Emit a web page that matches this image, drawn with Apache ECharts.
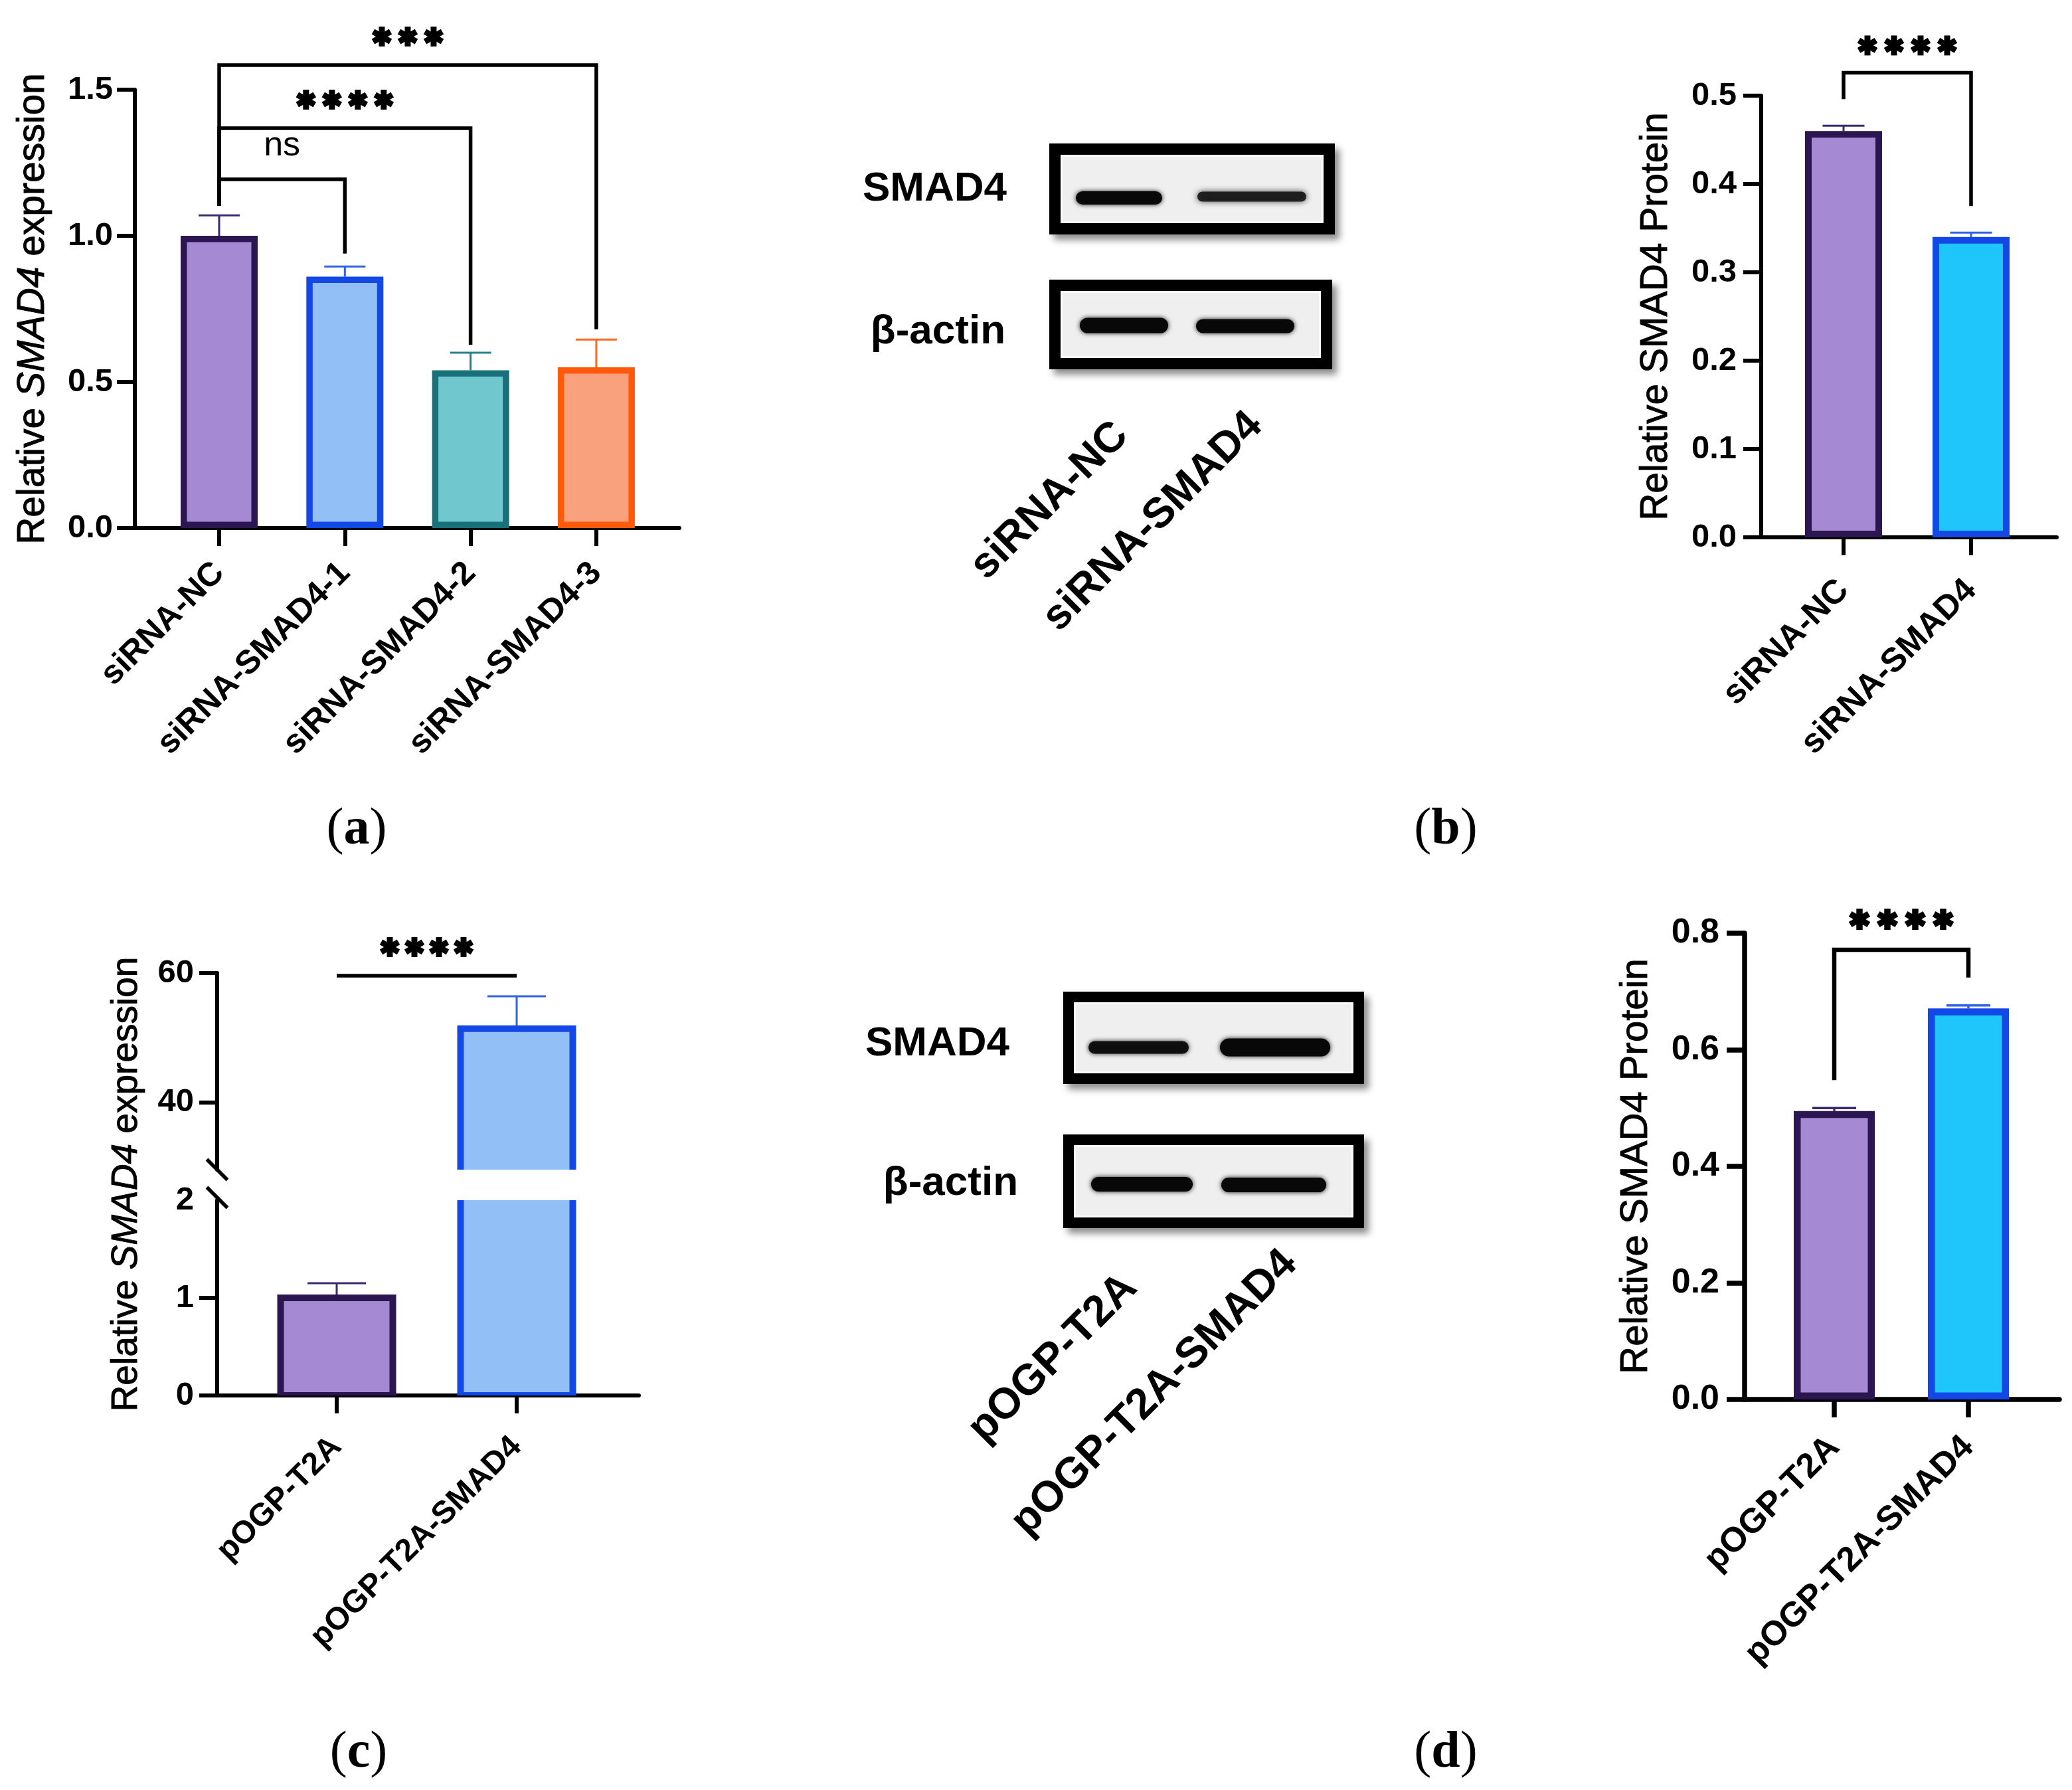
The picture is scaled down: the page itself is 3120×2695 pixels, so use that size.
<!DOCTYPE html>
<html>
<head>
<meta charset="utf-8">
<title>SMAD4 knock-down and over-expression</title>
<script src="https://cdn.jsdelivr.net/npm/echarts@6.0.0/dist/echarts.min.js"></script>
<style>
html,body{margin:0;padding:0;background:#ffffff;}
#chart{width:3120px;height:2695px;}
</style>
</head>
<body>
<div id="chart"></div>
<script>
// ================= DATA =================
// (a) relative SMAD4 mRNA, siRNA knock-down
const catA = ['siRNA-NC', 'siRNA-SMAD4-1', 'siRNA-SMAD4-2', 'siRNA-SMAD4-3'];
const meanA = [1.00, 0.86, 0.54, 0.55];
const sdA = [0.07, 0.035, 0.06, 0.095];
const yTicksA = [0, 0.5, 1.0, 1.5];
const sigPairsA = [[0, 1], [0, 2], [0, 3]];
const sigTopA = [1.193, 1.368, 1.584];
const sigLeftA = [1.102, 1.102, 1.102];
const sigRightA = [0.939, 0.627, 0.680];
const sigTextA = ['ns', '****', '***'];

// (b) relative SMAD4 protein, siRNA
const catB = ['siRNA-NC', 'siRNA-SMAD4'];
const meanB = [0.46, 0.34];
const sdB = [0.006, 0.005];
const yTicksB = [0, 0.1, 0.2, 0.3, 0.4, 0.5];
const sigPairsB = [[0, 1]];
const sigTopB = [0.526];
const sigLeftB = [0.496];
const sigRightB = [0.375];
const sigTextB = ['****'];

// (c) relative SMAD4 mRNA, over-expression (broken axis)
const catC = ['pOGP-T2A', 'pOGP-T2A-SMAD4'];
const meanC = [1.0, 51.4];
const sdC = [0.15, 5.0];
const yTicksCLow = [0, 1, 2];
const yTicksCHigh = [40, 60];
const yBreakC = 29.6;
const sigPairsC = [[0, 1]];
const sigTopC = [59.6];
const sigLeftC = [59.6];
const sigRightC = [59.6];
const sigTextC = ['****'];

// (d) relative SMAD4 protein, over-expression
const catD = ['pOGP-T2A', 'pOGP-T2A-SMAD4'];
const meanD = [0.495, 0.671];
const sdD = [0.005, 0.005];
const yTicksD = [0, 0.2, 0.4, 0.6, 0.8];
const sigPairsD = [[0, 1]];
const sigTopD = [0.7715];
const sigLeftD = [0.548];
const sigRightD = [0.724];
const sigTextD = ['****'];

// western blots
const blotRows = ['SMAD4', 'β-actin'];
const blotLanesB = ['siRNA-NC', 'siRNA-SMAD4'];
const blotLanesD = ['pOGP-T2A', 'pOGP-T2A-SMAD4'];
const bandDensityB = [[1.0, 0.75], [1.0, 1.0]];
const bandDensityD = [[0.92, 1.0], [1.0, 1.0]];

// ================= STYLE =================
const FONT = 'Liberation Sans';
const SERIF = 'Liberation Serif';
const fillA = ['#A58AD3', '#93BFF7', '#70C7CD', '#F9A17D'];
const edgeA = ['#2B1652', '#1448E6', '#17707A', '#FF5A0B'];
const errA  = ['#3A2872', '#2F63E8', '#27818A', '#FF6A1E'];
const fillB = ['#A58AD3', '#1EC6FC'];
const edgeB = ['#2B1652', '#1448E6'];
const errB  = ['#3A2872', '#2F63E8'];
const fillC = ['#A58AD3', '#93BFF7'];
const edgeC = ['#2B1652', '#1448E6'];
const errC  = ['#3A2872', '#2F63E8'];

const chart = echarts.init(document.getElementById('chart'), null, {renderer: 'canvas', width: 3120, height: 2695});

function gridPx(left, right, top, bottom) {
  return {left: left, top: top, width: right - left, height: bottom - top, containLabel: false, outerBoundsMode: 'none'};
}
// value x-axis with category ticks at 0..n-1
function xAxisCfg(gi, cats, min, max, o) {
  const idx = cats.map((_, i) => i);
  return {
    type: 'value', gridIndex: gi, min: min, max: max, show: o.show !== false,
    axisLine: {show: true, onZero: false, lineStyle: {color: '#000', width: o.lw}},
    axisTick: {show: true, customValues: idx, length: 27, inside: false, lineStyle: {color: '#000', width: o.lw}},
    axisLabel: {show: true, customValues: idx, formatter: v => cats[Math.round(v)] || '', rotate: 45,
      margin: o.margin, color: '#000', fontFamily: FONT, fontWeight: 'bold', fontSize: o.fs},
    splitLine: {show: false}
  };
}
function yAxisCfg(gi, ticks, o) {
  const cfg = {
    type: 'value', gridIndex: gi, min: o.min !== undefined ? o.min : ticks[0], max: ticks[ticks.length - 1],
    axisLine: {show: true, onZero: false, lineStyle: {color: '#000', width: o.lw}},
    axisTick: {show: true, length: 27, inside: false, lineStyle: {color: '#000', width: o.lw}},
    axisLabel: {show: true, margin: o.margin, color: '#000', fontFamily: FONT, fontWeight: 'bold', fontSize: o.fs,
      formatter: o.fmt || (v => String(v))},
    splitLine: {show: false}
  };
  if (o.custom) {
    cfg.axisLabel.customValues = ticks;
    cfg.axisTick.customValues = o.tickValues || ticks;
  } else {
    cfg.interval = ticks[1] - ticks[0];
    if (o.tickValues) cfg.axisTick.customValues = o.tickValues;
  }
  if (o.name) {
    cfg.name = o.name;
    cfg.nameLocation = 'middle';
    cfg.nameGap = o.nameGap;
    cfg.nameRotate = 90;
    const base = {fontFamily: FONT, fontSize: o.nameFs, color: '#000', fontWeight: 'normal', textBorderColor: '#000', textBorderWidth: 0.9};
    cfg.nameTextStyle = Object.assign({}, base, {rich: {r: Object.assign({}, base), i: Object.assign({}, base, {fontStyle: 'italic'})}});
  }
  return cfg;
}
function barSeries(gi, means, fills, edges, bw, barW) {
  return {
    type: 'bar', xAxisIndex: gi, yAxisIndex: gi, barWidth: barW, z: 2, silent: true,
    data: means.map((m, i) => ({value: [i, m], itemStyle: {color: fills[i], borderColor: edges[i], borderWidth: bw}}))
  };
}
// custom bar (used for the broken axis so the cut has no border)
function customBarSeries(gi, means, fills, edges, bw, barW) {
  return {
    type: 'custom', xAxisIndex: gi, yAxisIndex: gi, clip: true, z: 2, silent: true,
    encode: {x: 0, y: 1},
    data: means.map((m, i) => [i, m]),
    renderItem: (params, api) => {
      const i = params.dataIndex;
      const top = api.coord([api.value(0), api.value(1)]);
      const bot = api.coord([api.value(0), 0]);
      return {type: 'rect', shape: {x: top[0] - barW / 2, y: top[1], width: barW, height: bot[1] - top[1]},
        style: {fill: fills[i], stroke: edges[i], lineWidth: bw}};
    }
  };
}
function errSeries(gi, means, sds, colors, capW, lw, clip) {
  return {
    type: 'custom', xAxisIndex: gi, yAxisIndex: gi, clip: !!clip, z: 1, silent: true,
    encode: {x: 0, y: 1},
    data: means.map((m, i) => [i, m, sds[i]]),
    renderItem: (params, api) => {
      const x = api.value(0), m = api.value(1), s = api.value(2);
      const p0 = api.coord([x, m]), p1 = api.coord([x, m + s]);
      const c = colors[params.dataIndex];
      return {type: 'group', children: [
        {type: 'line', shape: {x1: p0[0], y1: p0[1], x2: p1[0], y2: p1[1]}, style: {stroke: c, lineWidth: lw}},
        {type: 'line', shape: {x1: p1[0] - capW / 2, y1: p1[1], x2: p1[0] + capW / 2, y2: p1[1]}, style: {stroke: c, lineWidth: lw}}
      ]};
    }
  };
}
// a bold six-armed asterisk drawn as three crossing strokes
function starShape(cx, cy, r, lw) {
  const out = [];
  [90, 30, 150].forEach(a => {
    const rad = a * Math.PI / 180, dx = Math.cos(rad) * r, dy = Math.sin(rad) * r;
    out.push({type: 'line', shape: {x1: cx - dx, y1: cy - dy, x2: cx + dx, y2: cy + dy},
      style: {stroke: '#000', lineWidth: lw, lineCap: 'butt'}});
  });
  return out;
}
function sigSeries(gi, pairs, tops, lefts, rights, texts, o) {
  return {
    type: 'custom', xAxisIndex: gi, yAxisIndex: gi, clip: false, z: 3, silent: true,
    encode: {x: [0, 1], y: [2, 3, 4]},
    data: pairs.map((p, i) => [p[0], p[1], tops[i], lefts[i], rights[i]]),
    renderItem: (params, api) => {
      const i = params.dataIndex;
      const x1 = api.value(0), x2 = api.value(1), yt = api.value(2), yl = api.value(3), yr = api.value(4);
      const pL = api.coord([x1, yl]), pLT = api.coord([x1, yt]), pRT = api.coord([x2, yt]), pR = api.coord([x2, yr]);
      let children = [{type: 'polyline', shape: {points: [pL, pLT, pRT, pR]},
        style: {stroke: '#000', lineWidth: o.lw, fill: null, lineJoin: 'miter'}}];
      const label = texts[i];
      const cx = (pLT[0] + pRT[0]) / 2;
      if (/^\*+$/.test(label)) {
        const n = label.length;
        for (let k = 0; k < n; k++) {
          children = children.concat(starShape(cx + (k - (n - 1) / 2) * o.starSp, pLT[1] - o.starOff, o.starR, o.starLw));
        }
      } else {
        children.push({type: 'text', x: cx, y: pLT[1] - o.textOff,
          style: {text: label, fontFamily: FONT, fontWeight: 'normal', fontSize: o.textFs, fill: '#000', align: 'center', verticalAlign: 'middle'}});
      }
      return {type: 'group', children: children};
    }
  };
}
const fmt1 = v => Number(v).toFixed(1);

// ================= LAYOUT =================
// grid pixel boxes; category k sits at value k
const G = {
  a: {l: 203, r: 1023, t: 135, b: 795, x0: 330, dx: 189.3},
  b: {l: 2652, r: 3097, t: 144, b: 809, x0: 2776, dx: 192},
  cLow: {l: 327, r: 962, t: 1807, b: 2101, x0: 507, dx: 271},
  cHigh: {l: 327, r: 962, t: 1465, b: 1761, x0: 507, dx: 271},
  d: {l: 2627, r: 3101, t: 1405, b: 2107, x0: 2762, dx: 202}
};
const ext = g => [(g.l - g.x0) / g.dx, (g.r - g.x0) / g.dx];
const eA = ext(G.a), eB = ext(G.b), eC = ext(G.cLow), eD = ext(G.d);
const titleRich = '{r|Relative }{i|SMAD4}{r| expression}';

const option = {
  animation: false,
  backgroundColor: '#ffffff',
  grid: [
    gridPx(G.a.l, G.a.r, G.a.t, G.a.b),
    gridPx(G.b.l, G.b.r, G.b.t, G.b.b),
    gridPx(G.cLow.l, G.cLow.r, G.cLow.t, G.cLow.b),
    gridPx(G.cHigh.l, G.cHigh.r, G.cHigh.t, G.cHigh.b),
    gridPx(G.d.l, G.d.r, G.d.t, G.d.b)
  ],
  xAxis: [
    xAxisCfg(0, catA, eA[0], eA[1], {lw: 6, margin: 60, fs: 50}),
    xAxisCfg(1, catB, eB[0], eB[1], {lw: 6, margin: 72, fs: 51}),
    xAxisCfg(2, catC, eC[0], eC[1], {lw: 6, margin: 70, fs: 48}),
    xAxisCfg(3, catC, eC[0], eC[1], {lw: 6, margin: 70, fs: 48, show: false}),
    xAxisCfg(4, catD, eD[0], eD[1], {lw: 7.5, margin: 64, fs: 52})
  ],
  yAxis: [
    yAxisCfg(0, yTicksA, {lw: 6, margin: 33, fs: 49, fmt: fmt1, name: titleRich, nameGap: 124, nameFs: 57}),
    yAxisCfg(1, yTicksB, {lw: 6, margin: 37, fs: 49, fmt: fmt1, name: 'Relative SMAD4 Protein', nameGap: 129, nameFs: 57}),
    yAxisCfg(2, yTicksCLow, {lw: 6, margin: 35, fs: 49, tickValues: [0, 1]}),
    yAxisCfg(3, yTicksCHigh, {lw: 6, margin: 35, fs: 49, min: yBreakC, custom: true}),
    yAxisCfg(4, yTicksD, {lw: 7.5, margin: 38, fs: 52, fmt: fmt1, name: 'Relative SMAD4 Protein', nameGap: 134, nameFs: 58})
  ],
  series: [
    errSeries(0, meanA, sdA, errA, 62, 3),
    barSeries(0, meanA, fillA, edgeA, 9.5, 116),
    sigSeries(0, sigPairsA, sigTopA, sigLeftA, sigRightA, sigTextA, {lw: 5.5, starSp: 39, starR: 15, starLw: 9, starOff: 43, textOff: 50, textFs: 52}),

    errSeries(1, meanB, sdB, errB, 63, 3),
    barSeries(1, meanB, fillB, edgeB, 10, 116),
    sigSeries(1, sigPairsB, sigTopB, sigLeftB, sigRightB, sigTextB, {lw: 5.5, starSp: 40, starR: 15, starLw: 9, starOff: 41}),

    errSeries(2, meanC, sdC, errC, 88, 3, true),
    errSeries(3, meanC, sdC, errC, 88, 3, true),
    customBarSeries(2, meanC, fillC, edgeC, 10, 169),
    customBarSeries(3, meanC, fillC, edgeC, 10, 169),
    sigSeries(3, sigPairsC, sigTopC, sigLeftC, sigRightC, sigTextC, {lw: 5.5, starSp: 37, starR: 15, starLw: 9, starOff: 43}),

    errSeries(4, meanD, sdD, errB, 66, 3.5),
    barSeries(4, meanD, fillB, edgeB, 10.5, 122),
    sigSeries(4, sigPairsD, sigTopD, sigLeftD, sigRightD, sigTextD, {lw: 6.5, starSp: 42, starR: 16, starLw: 9.5, starOff: 46})
  ],
  graphic: []
};

// ================= DECORATIONS (blots, labels) =================
const gfx = [];
function blot(boxes, border, bands, density, rowLabelRight, rowLabelY, rowFs, lanes, laneAnchors, laneFs) {
  boxes.forEach((b, r) => {
    const [x, y, w, h] = b, t = border;
    gfx.push({type: 'rect', silent: true, z: 1, shape: {x: x, y: y, width: w, height: h},
      style: {fill: '#000', shadowBlur: 10, shadowOffsetX: 7, shadowOffsetY: 8, shadowColor: 'rgba(0,0,0,0.45)'}});
    gfx.push({type: 'rect', silent: true, z: 2, shape: {x: x + t, y: y + t, width: w - 2 * t, height: h - 2 * t}, style: {fill: '#fbfbfb'}});
    gfx.push({type: 'rect', silent: true, z: 3, shape: {x: x + t + 3, y: y + t + 3, width: w - 2 * t - 6, height: h - 2 * t - 6}, style: {fill: '#efefef'}});
    bands[r].forEach((bd, l) => {
      const [x1, x2, cy, bh] = bd;
      const d = density[r][l];
      const g = Math.round(8 + (1 - d) * 60);
      gfx.push({type: 'rect', silent: true, z: 5, shape: {x: x1 + 3, y: cy - bh / 2 + 1, width: x2 - x1 - 6, height: bh - 2, r: (bh - 2) / 2},
        style: {fill: 'rgb(' + g + ',' + g + ',' + g + ')', opacity: 0.65 + 0.35 * d,
          shadowBlur: 7 + (1 - d) * 12, shadowColor: 'rgba(0,0,0,' + (0.55 + 0.35 * d) + ')'}});
    });
    gfx.push({type: 'text', silent: true, z: 6, x: rowLabelRight[r], y: rowLabelY[r],
      style: {text: blotRows[r], fontFamily: FONT, fontWeight: 'bold', fontSize: rowFs, fill: '#000', align: 'right', verticalAlign: 'middle'}});
  });
  lanes.forEach((lab, i) => {
    gfx.push({type: 'text', silent: true, z: 6, x: laneAnchors[i][0], y: laneAnchors[i][1], rotation: Math.PI / 4,
      style: {text: lab, fontFamily: FONT, fontWeight: 'bold', fontSize: laneFs, fill: '#000', align: 'right', verticalAlign: 'middle'}});
  });
}
// (b) blot
blot([[1580, 216, 430, 137], [1580, 421, 426, 135]], 17,
  [[[1617, 1753, 298, 22], [1800, 1970, 296, 17]], [[1623, 1762, 490, 25], [1798, 1952, 491, 23]]],
  bandDensityB, [1516, 1514], [285, 500], 62, blotLanesB, [[1689, 646], [1891, 631]], 64);
// (d) blot
blot([[1601, 1493, 453, 139], [1601, 1708, 453, 141]], 16,
  [[[1636, 1793, 1577, 21], [1834, 2006, 1577, 29]], [[1640, 1799, 1783, 24], [1836, 2000, 1784, 24]]],
  bandDensityD, [1520, 1533], [1572, 1782], 62, blotLanesD, [[1702, 1929], [1943, 1893]], 65);

// (c) y-axis title
const titleBase = {fontFamily: FONT, fontSize: 55, fill: '#000', stroke: '#000', lineWidth: 0.9};
gfx.push({type: 'text', silent: true, z: 5, x: 191, y: 1783, rotation: Math.PI / 2,
  style: {text: titleRich, align: 'center', verticalAlign: 'middle',
    rich: {r: Object.assign({}, titleBase), i: Object.assign({}, titleBase, {fontStyle: 'italic'})}}});
// (c) axis break marks
[[G.cHigh.l, G.cHigh.b], [G.cLow.l, G.cLow.t - 4]].forEach(p => {
  gfx.push({type: 'line', silent: true, z: 6, shape: {x1: p[0] - 15.5, y1: p[1] - 15.5, x2: p[0] + 15.5, y2: p[1] + 15.5},
    style: {stroke: '#000', lineWidth: 5.5}});
});
// panel letters
[['a', 537, 1250], ['b', 2177, 1250], ['c', 540, 2640], ['d', 2177, 2640]].forEach(p => {
  gfx.push({type: 'text', silent: true, z: 5, x: p[1], y: p[2],
    style: {text: '{n|(}{b|' + p[0] + '}{n|)}', align: 'center', verticalAlign: 'middle',
      rich: {n: {fontFamily: SERIF, fontSize: 78, fill: '#000'}, b: {fontFamily: SERIF, fontSize: 78, fontWeight: 'bold', fill: '#000'}}}});
});
option.graphic = gfx;
chart.setOption(option);
</script>
</body>
</html>
